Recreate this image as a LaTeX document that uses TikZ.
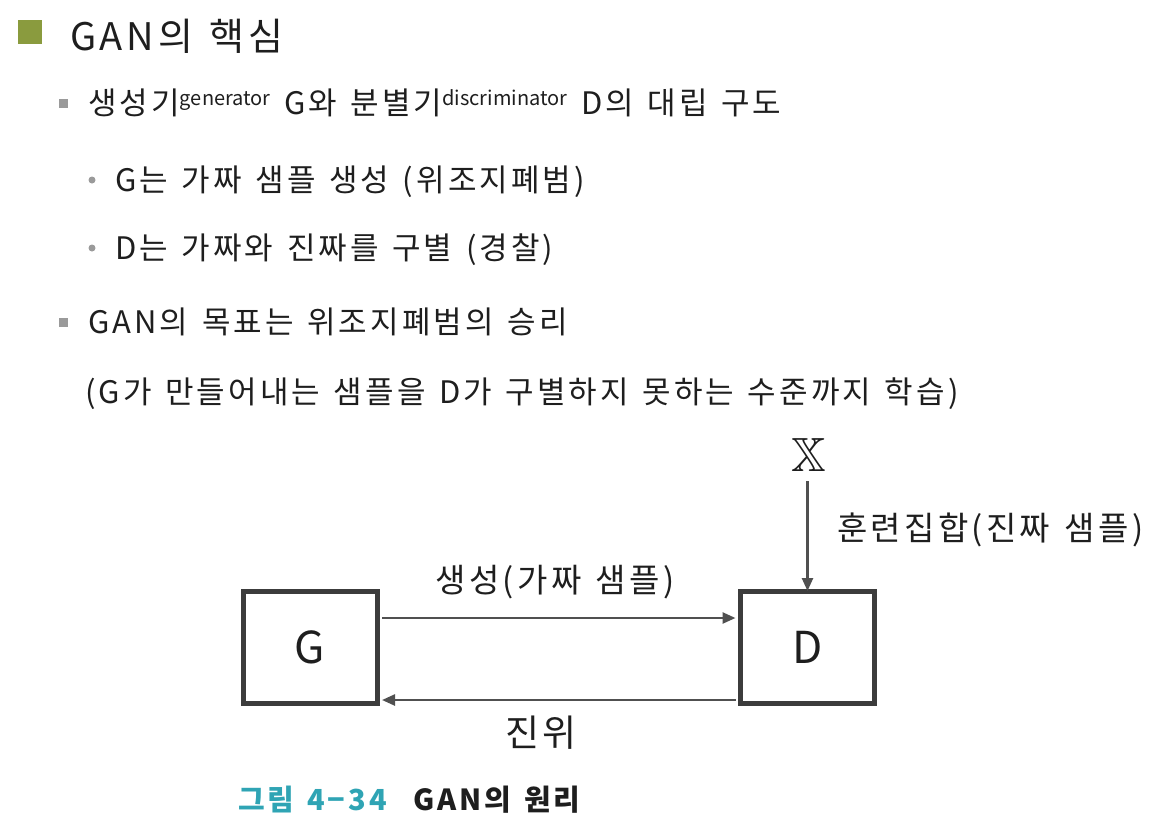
\documentclass[tikz,border=0pt]{standalone}
\usepackage{amssymb}
\usepackage{fontspec}
\setmainfont{Noto Sans CJK KR}[LetterSpace=10, WordSpace=1.35]
\usetikzlibrary{arrows.meta}
\definecolor{txt}{HTML}{1E1E1E}
\definecolor{bulletgreen}{HTML}{8A9B3E}
\definecolor{bulletgray}{HTML}{9A9A9A}
\definecolor{boxgray}{HTML}{3C3C3C}
\definecolor{arrgray}{HTML}{505050}
\definecolor{tealc}{HTML}{2FA4B4}
\newcommand{\supword}[1]{\raisebox{9pt}{\fontsize{20}{20}\selectfont\addfontfeatures{LetterSpace=0}#1}}
\tikzset{
  fs/.style={font=\fontsize{#1}{#1}\selectfont},
  line/.style={anchor=base west, inner sep=0pt, text=txt, fs=31},
  blk/.style={draw=boxgray, line width=5pt, minimum width=134pt, minimum height=112pt, inner sep=0pt, text=txt, fs=44},
  arr/.style={draw=arrgray, line width=2.5pt, -{Triangle[length=13pt,width=11pt]}},
  lab/.style={inner sep=0pt, text=txt, fs=33},
}
\begin{document}
\begin{tikzpicture}[x=1pt,y=-1pt]
\useasboundingbox (0,0) rectangle (1173,831);
% title
\fill[bulletgreen] (18,20) rectangle (42,44);
\node[line, fs=38] (title) at (70,50) {GAN의 핵심};
% level 2 / 3 lines
\fill[bulletgray] (59,99) rectangle (68,108);
\node[line] (l1) at (88,114) {생성기\supword{generator} G와 분별기\supword{discriminator} D의 대립 구도};
\fill[bulletgray] (92,180) circle (3.5);
\node[line] (l2) at (115,191) {G는 가짜 샘플 생성 (위조지폐범)};
\fill[bulletgray] (92,248) circle (3.5);
\node[line] (l3) at (115,259) {D는 가짜와 진짜를 구별 (경찰)};
\fill[bulletgray] (59,318) rectangle (68,327);
\node[line] (l4) at (88,333) {GAN의 목표는 위조지폐범의 승리};
\node[line] (l5) at (85,403) {(G가 만들어내는 샘플을 D가 구별하지 못하는 수준까지 학습)};
% diagram
\node[blk] (G) at (310,647) {G};
\node[blk] (D) at (807.5,647) {D};
\node[inner sep=0pt, text=txt, font=\fontsize{48}{48}\selectfont] (X) at (809,455) {$\mathbb{X}$};
\coordinate (Gt) at (G.east |- 0,618);
\coordinate (Dt) at (D.west |- 0,618);
\coordinate (Gb) at (G.east |- 0,700);
\coordinate (Db) at (D.west |- 0,700);
\draw[arr] ([xshift=2.5pt]Gt) -- ([xshift=-2.5pt]Dt);
\draw[arr] ([xshift=-2.5pt]Db) -- ([xshift=2.5pt]Gb);
\draw[arr] (807.5,481) -- ([yshift=-2.5pt]D.north);
\node[lab] (t1) at (555,582) {생성(가짜 샘플)};
\node[lab, fs=37] (t2) at (541,733) {진위};
\node[lab, anchor=west] (t3) at (837,530) {훈련집합(진짜 샘플)};
% caption
\node[anchor=base west, inner sep=0pt, font={\fontsize{29}{29}\selectfont\bfseries}] (cap) at (238,810) {\textcolor{tealc}{그림 4−34}\hspace{27pt}\textcolor{txt}{GAN의 원리}};
\end{tikzpicture}
\end{document}
